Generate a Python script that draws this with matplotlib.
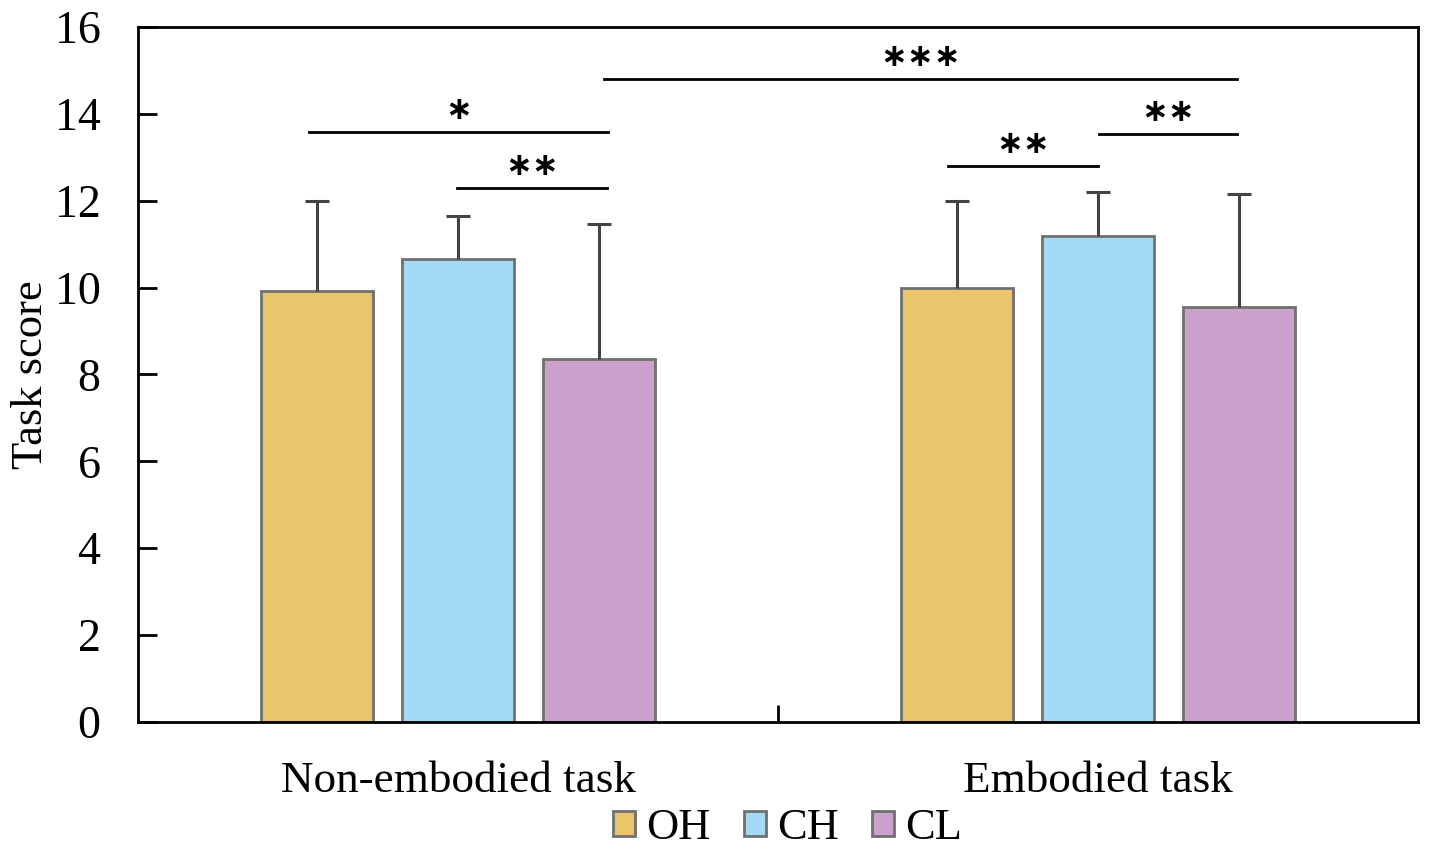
import matplotlib.pyplot as plt
import numpy as np
from matplotlib.patches import Patch

plt.rcParams['font.family'] = ['Liberation Serif', 'DejaVu Serif']

# data
tasks = ['Non-embodied task', 'Embodied task']
groups = ['OH', 'CH', 'CL']
means = {'OH': [9.92, 9.99], 'CH': [10.66, 11.19], 'CL': [8.36, 9.55]}
errs = {'OH': [2.07, 2.00], 'CH': [0.99, 1.01], 'CL': [3.10, 2.60]}
colors = {'OH': '#EBC56B', 'CH': '#A3D9F5', 'CL': '#CBA0CA'}

# significance brackets: (x1, x2, y, label) in data coords
sig = [(-0.233, 0.234, 13.58, '∗'),
       (-0.002, 0.233, 12.29, '∗∗'),
       (0.228, 1.217, 14.80, '∗∗∗'),
       (0.766, 1.0, 12.80, '∗∗'),
       (1.002, 1.217, 13.54, '∗∗')]

fig = plt.figure(figsize=(14.29, 8.51), dpi=100)
ax = fig.add_axes([0.0966, 0.1516, 0.8957, 0.8167])

x = np.arange(len(tasks))
w = 0.175
step = 0.22
cap = 0.019
for i, g in enumerate(groups):
    pos = x + (i - 1) * step
    m = np.array(means[g])
    top = m + np.array(errs[g])
    ax.bar(pos, m, width=w, color=colors[g], edgecolor='#707070',
           linewidth=2, zorder=2)
    ax.vlines(pos, m, top, color='#444444', lw=2.2, zorder=3)
    ax.hlines(top, pos - cap, pos + cap, color='#444444', lw=2.2, zorder=3)

for x1, x2, y, lab in sig:
    ax.plot([x1, x2], [y, y], color='black', lw=2)
    ax.text((x1 + x2) / 2, y + 0.5, lab, ha='center', va='center',
            fontsize=23, family='DejaVu Sans', weight='bold')

ax.set_xlim(-0.5, 1.5)
ax.set_ylim(0, 16)
ax.set_yticks(np.arange(0, 17, 2))
ax.set_xticks([0.5])
ax.set_xticklabels([''])
ax.tick_params(axis='y', direction='in', length=14, width=2,
               labelsize=33, pad=27)
ax.tick_params(axis='x', direction='in', length=12, width=2)
for s in ax.spines.values():
    s.set_linewidth(2)

for xi, t in zip(x, tasks):
    ax.text(xi, -0.9, t, ha='center', va='top', fontsize=32.5)

ax.set_ylabel('Task score', fontsize=32)
ax.yaxis.set_label_coords(-0.068, 0.5)

handles = [Patch(facecolor=colors[g], edgecolor='#707070', linewidth=2)
           for g in groups]
fig.legend(handles, groups, loc='center', bbox_to_anchor=(0.551, 0.027),
           ncol=3, frameon=False, fontsize=32, handlelength=0.5,
           handleheight=0.5, handletextpad=0.25, columnspacing=0.75)

fig.savefig('out.png', dpi=100)
